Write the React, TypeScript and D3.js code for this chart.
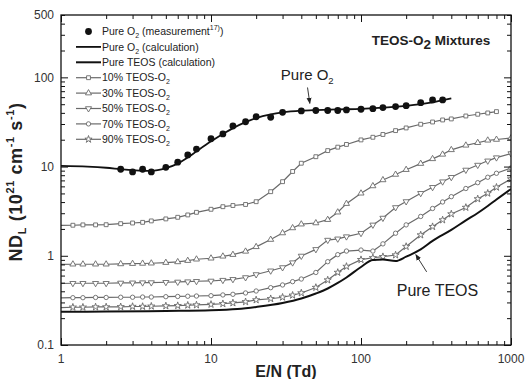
import React, { useEffect, useRef } from "react";
import * as d3 from "d3";

// E/N grid (Td) shared by the mixture curves
const enGrid = [1, 1.2, 1.4, 1.7, 2, 2.5, 3, 3.5, 4, 5, 6, 7, 8, 10, 12, 14, 17, 20, 25, 30, 35, 40, 50, 60, 70, 80, 100, 120, 140, 170, 200, 250, 300, 350, 400, 500, 600, 700, 800, 1000];

const mix10 = [2.19, 2.2, 2.22, 2.22, 2.23, 2.29, 2.33, 2.37, 2.46, 2.59, 2.7, 2.87, 3.07, 3.32, 3.55, 3.66, 3.76, 4.04, 5.23, 6.77, 8.81, 10.9, 12.9, 15.1, 16.5, 17.7, 19.9, 21.3, 22.9, 25.3, 27.1, 29.8, 31.6, 33.3, 34.2, 36.9, 38.6, 39.9, 41.3];
const mix30 = [0.8, 0.804, 0.804, 0.804, 0.804, 0.81, 0.816, 0.82, 0.825, 0.838, 0.853, 0.882, 0.914, 0.938, 0.987, 1.03, 1.12, 1.26, 1.52, 1.8, 2.05, 2.26, 2.33, 2.54, 3.08, 3.84, 5.02, 6.06, 7.08, 8.15, 9.23, 10.8, 12.2, 13.7, 15.4, 17.3, 18.5, 19.7, 20.1, 20.9];
const mix50 = [0.489, 0.492, 0.492, 0.492, 0.492, 0.496, 0.498, 0.5, 0.501, 0.505, 0.509, 0.513, 0.518, 0.522, 0.533, 0.545, 0.571, 0.617, 0.679, 0.739, 0.838, 0.995, 1.18, 1.5, 1.55, 1.64, 1.79, 2.22, 2.65, 3.48, 4.06, 5.02, 5.86, 6.77, 7.59, 9.16, 10.4, 11.6, 12.6, 14.0];
const mix70 = [0.338, 0.339, 0.339, 0.341, 0.341, 0.343, 0.343, 0.345, 0.345, 0.348, 0.35, 0.352, 0.354, 0.357, 0.364, 0.37, 0.383, 0.403, 0.439, 0.471, 0.513, 0.549, 0.65, 0.859, 1.03, 1.13, 1.16, 1.13, 1.36, 1.79, 2.22, 2.76, 3.39, 4.01, 4.6, 5.68, 6.6, 7.59, 8.41, 9.64];
const mix90 = [0.263, 0.265, 0.265, 0.267, 0.267, 0.268, 0.27, 0.27, 0.272, 0.274, 0.276, 0.279, 0.281, 0.285, 0.29, 0.296, 0.305, 0.32, 0.33, 0.343, 0.361, 0.383, 0.441, 0.535, 0.65, 0.759, 0.904, 0.95, 0.977, 1.02, 1.27, 1.71, 2.12, 2.52, 2.94, 3.48, 4.34, 5.02, 5.86, 7.26];

// pure O2 measurement
const o2MeasX = [2.5, 3, 3.5, 4, 5, 6, 7, 8, 10, 12, 14, 17, 20, 25, 30, 40, 50, 60, 70, 80, 100, 120, 140, 170, 200, 250, 300, 350];
const o2MeasY = [9.33, 8.7, 9.33, 8.7, 9.8, 11.2, 13.5, 15.7, 20.5, 23.2, 28.5, 31.8, 36.2, 35.7, 40.6, 42, 42.5, 42.5, 42.5, 43.1, 43.9, 44.6, 45.8, 47, 48.2, 52, 55.8, 55.8];

// pure O2 calculation
const o2CalcX = [1, 1.5, 2, 2.5, 3, 3.5, 4, 5, 6, 7, 8, 10, 12, 14, 17, 20, 25, 30, 40, 50, 70, 100, 150, 200, 300, 400];
const o2CalcY = [10.2, 10.0, 9.7, 9.35, 9.1, 8.95, 8.95, 9.6, 10.8, 12.6, 14.8, 19.2, 23.2, 27, 31.5, 35, 38.5, 40.5, 42.3, 43, 43.7, 44.3, 46, 48, 52.5, 58];

// pure TEOS calculation
const teosX = [1, 2, 5, 10, 15, 20, 30, 40, 50, 60, 70, 80, 100, 120, 140, 170, 200, 250, 300, 400, 500, 600, 700, 800, 1000];
const teosY = [0.236, 0.237, 0.241, 0.245, 0.253, 0.267, 0.296, 0.332, 0.378, 0.43, 0.496, 0.571, 0.749, 0.897, 0.909, 0.875, 0.977, 1.18, 1.47, 1.95, 2.49, 3.02, 3.62, 4.28, 5.61];

const xTickLabels = ["1", "10", "100", "1000"];
const yTickLabels = ["0.1", "1", "10", "100", "500"];

const W = 528;
const H = 379;
const plot = { left: 61, right: 511, top: 15, bottom: 345 };
const FONT = "'Liberation Sans', Arial, Helvetica, sans-serif";

const x = d3.scaleLog().domain([1, 1000]).range([plot.left, plot.right]);
const y = d3.scaleLog().domain([0.1, 500]).range([plot.bottom, plot.top]);

type Pt = [number, number];
const zip = (xs: number[], ys: number[]): Pt[] => ys.map((v, i) => [xs[i], v]);

const lineLin = d3.line<Pt>().x(d => x(d[0])).y(d => y(d[1]));
const lineSmooth = d3.line<Pt>().x(d => x(d[0])).y(d => y(d[1])).curve(d3.curveMonotoneX);

const series = [
  { key: "10", label: "10% TEOS-O", values: mix10, symbol: d3.symbolSquare, size: 15, rotate: 0 },
  { key: "30", label: "30% TEOS-O", values: mix30, symbol: d3.symbolTriangle, size: 16, rotate: 0 },
  { key: "50", label: "50% TEOS-O", values: mix50, symbol: d3.symbolTriangle, size: 16, rotate: 180 },
  { key: "70", label: "70% TEOS-O", values: mix70, symbol: d3.symbolCircle, size: 15, rotate: 0 },
  { key: "90", label: "90% TEOS-O", values: mix90, symbol: d3.symbolStar, size: 16, rotate: 0 },
];

const GREY = "#6a6a6a";

function Marker({ cx, cy, s }: { cx: number; cy: number; s: typeof series[number] }) {
  const d = d3.symbol().type(s.symbol).size(s.size)() || "";
  return (
    <path
      d={d}
      transform={`translate(${cx},${cy}) rotate(${s.rotate})`}
      fill="#fff"
      stroke={GREY}
      strokeWidth={0.9}
    />
  );
}

function Axes() {
  const ref = useRef<SVGGElement>(null);
  useEffect(() => {
    if (!ref.current) return;
    const g = d3.select(ref.current);
    g.selectAll("*").remove();
    const isMajor = (v: number) => Math.abs(Math.log10(v) - Math.round(Math.log10(v))) < 1e-6;
    const xMaj = x.ticks().filter(isMajor);
    const xMin = x.ticks().filter(v => !isMajor(v));
    const yMaj = y.ticks().filter(isMajor);
    const yMin = y.ticks().filter(v => !isMajor(v));
    const add = (axis: d3.Axis<number>, t: string) => {
      const sel = g.append("g").attr("transform", t);
      sel.call(axis as any);
      sel.select(".domain").remove();
      sel.selectAll("text").remove();
      sel.selectAll("line").attr("stroke", "#111").attr("stroke-width", 1);
    };
    add(d3.axisBottom<number>(x).tickValues(xMaj).tickSize(-7), `translate(0,${plot.bottom})`);
    add(d3.axisBottom<number>(x).tickValues(xMin).tickSize(-4), `translate(0,${plot.bottom})`);
    add(d3.axisTop<number>(x).tickValues(xMaj).tickSize(-7), `translate(0,${plot.top})`);
    add(d3.axisTop<number>(x).tickValues(xMin).tickSize(-4), `translate(0,${plot.top})`);
    add(d3.axisLeft<number>(y).tickValues(yMaj).tickSize(-7), `translate(${plot.left},0)`);
    add(d3.axisLeft<number>(y).tickValues(yMin).tickSize(-4), `translate(${plot.left},0)`);
    add(d3.axisRight<number>(y).tickValues(yMaj).tickSize(-7), `translate(${plot.right},0)`);
    add(d3.axisRight<number>(y).tickValues(yMin).tickSize(-4), `translate(${plot.right},0)`);
  }, []);
  return <g ref={ref} />;
}

export default function App() {
  const legendX0 = 76;
  const legendX1 = 101;
  const legendTextX = 102;
  const legendY0 = 31.5;
  const legendStep = 15.4;
  const lgFont = 10.5;

  const o2Tip: Pt = [45.6, 51];
  const o2Tail: Pt = [44, 77];
  const teosTip: Pt = [232, 1.03];
  const teosTail: Pt = [274, 0.66];

  return (
    <svg
      width={W}
      height={H}
      style={{ position: "absolute", left: 0, top: 0, background: "#fff" }}
      fontFamily={FONT}
    >
      <defs>
        <marker id="arr" viewBox="0 0 10 10" refX="9" refY="5" markerWidth="7" markerHeight="7" orient="auto">
          <path d="M0,1 L10,5 L0,9 Z" fill="#222" />
        </marker>
        <clipPath id="plotclip">
          <rect x={plot.left} y={plot.top} width={plot.right - plot.left} height={plot.bottom - plot.top} />
        </clipPath>
      </defs>

      {/* mixture curves */}
      <g clipPath="url(#plotclip)">
        {series.map(s => {
          const pts = zip(enGrid, s.values);
          return (
            <g key={s.key}>
              <path d={lineLin(pts) || ""} fill="none" stroke={GREY} strokeWidth={1.2} />
              {pts.filter(p => p[0] > 1).map((p, i) => (
                <Marker key={i} cx={x(p[0])} cy={y(p[1])} s={s} />
              ))}
            </g>
          );
        })}

        {/* pure TEOS calc */}
        <path d={lineSmooth(zip(teosX, teosY)) || ""} fill="none" stroke="#111" strokeWidth={2} />
        {/* pure O2 calc */}
        <path d={lineSmooth(zip(o2CalcX, o2CalcY)) || ""} fill="none" stroke="#111" strokeWidth={1.8} />
        {zip(o2MeasX, o2MeasY).map((p, i) => (
          <circle key={i} cx={x(p[0])} cy={y(p[1])} r={3.4} fill="#111" />
        ))}
      </g>

      <Axes />
      <rect
        x={plot.left}
        y={plot.top}
        width={plot.right - plot.left}
        height={plot.bottom - plot.top}
        fill="none"
        stroke="#111"
        strokeWidth={1.3}
      />

      {/* tick labels */}
      {xTickLabels.map(t => (
        <text key={t} x={x(+t)} y={363} textAnchor="middle" fontSize={12} fill="#333">{t}</text>
      ))}
      {yTickLabels.map(t => (
        <text key={t} x={54} y={y(+t)} dy="0.35em" textAnchor="end" fontSize={12} fill="#333">{t}</text>
      ))}

      {/* axis titles */}
      <text x={(plot.left + plot.right) / 2} y={377} textAnchor="middle" fontSize={16} fontWeight="bold" fill="#222">
        E/N (Td)
      </text>
      <text
        transform={`translate(22,${(plot.top + plot.bottom) / 2 + 2}) rotate(-90)`}
        textAnchor="middle"
        fontSize={18}
        fontWeight="bold"
        letterSpacing={0.6}
        fill="#222"
      >
        ND<tspan fontSize={11} dy={4}>L</tspan>
        <tspan dy={-4}> (10</tspan>
        <tspan fontSize={11} dy={-8}>21</tspan>
        <tspan dy={8}> cm</tspan>
        <tspan fontSize={11} dy={-8}>-1</tspan>
        <tspan dy={8}> s</tspan>
        <tspan fontSize={11} dy={-8}>-1</tspan>
        <tspan dy={8}>)</tspan>
      </text>

      {/* title inside */}
      <text x={x(118)} y={y(231)} fontSize={13.5} fontWeight="bold" fill="#222">
        TEOS-O<tspan dy={4}>2</tspan>
        <tspan dy={-4}> Mixtures</tspan>
      </text>

      {/* annotations */}
      <text x={x(29.2)} y={y(93.5)} fontSize={15} fill="#222">
        Pure O<tspan fontSize={9.5} dy={4}>2</tspan>
      </text>
      <line x1={x(o2Tail[0])} y1={y(o2Tail[1])} x2={x(o2Tip[0])} y2={y(o2Tip[1])} stroke="#222" strokeWidth={0.9} markerEnd="url(#arr)" />
      <text x={x(173)} y={y(0.354)} fontSize={16} fill="#222">Pure TEOS</text>
      <line x1={x(teosTail[0])} y1={y(teosTail[1])} x2={x(teosTip[0])} y2={y(teosTip[1])} stroke="#222" strokeWidth={0.9} markerEnd="url(#arr)" />

      {/* legend */}
      <g fontSize={lgFont} fill="#222">
        <circle cx={(legendX0 + legendX1) / 2} cy={legendY0} r={3.4} fill="#111" />
        <text x={legendTextX} y={legendY0} dy="0.35em">
          Pure O<tspan fontSize={7} dy={3}>2</tspan>
          <tspan dy={-3}> (measurement</tspan>
          <tspan fontSize={7} dy={-5}>17)</tspan>
          <tspan dy={5}>)</tspan>
        </text>

        <line x1={legendX0} x2={legendX1} y1={legendY0 + legendStep} y2={legendY0 + legendStep} stroke="#111" strokeWidth={1.8} />
        <text x={legendTextX} y={legendY0 + legendStep} dy="0.35em">
          Pure O<tspan fontSize={7} dy={3}>2</tspan>
          <tspan dy={-3}> (calculation)</tspan>
        </text>

        <line x1={legendX0} x2={legendX1} y1={legendY0 + 2 * legendStep} y2={legendY0 + 2 * legendStep} stroke="#111" strokeWidth={2} />
        <text x={legendTextX} y={legendY0 + 2 * legendStep} dy="0.35em">Pure TEOS (calculation)</text>

        {series.map((s, i) => {
          const ly = legendY0 + (i + 3) * legendStep;
          return (
            <g key={s.key}>
              <line x1={legendX0} x2={legendX1} y1={ly} y2={ly} stroke={GREY} strokeWidth={1.2} />
              <Marker cx={(legendX0 + legendX1) / 2} cy={ly} s={s} />
              <text x={legendTextX} y={ly} dy="0.35em">
                {s.label}<tspan fontSize={7} dy={3}>2</tspan>
              </text>
            </g>
          );
        })}
      </g>
    </svg>
  );
}
